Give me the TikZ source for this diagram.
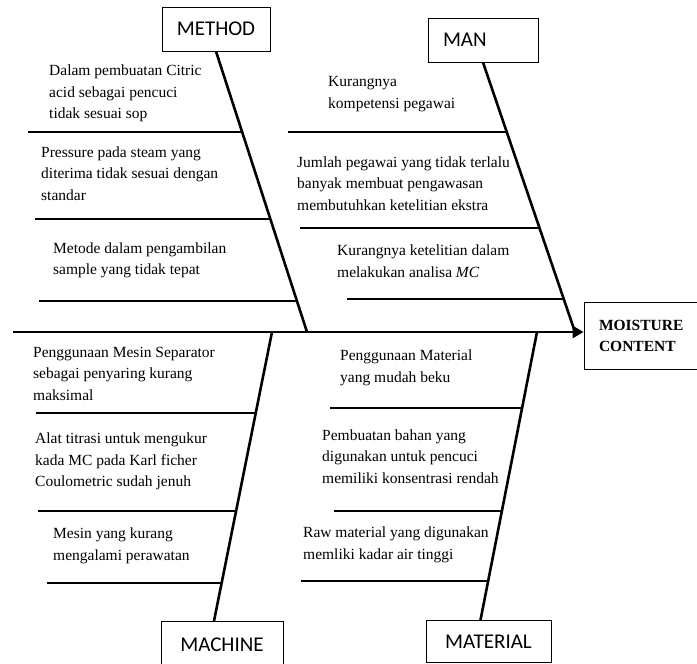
\documentclass[tikz,border=0pt]{standalone}
\usepackage{fontspec}
\setmainfont{Liberation Serif}
\newfontfamily\boxfont{Carlito}
\usetikzlibrary{arrows.meta,intersections}

\begin{document}
\begin{tikzpicture}[x=1pt,y=-1pt]
    \tikzstyle{catbox}=[draw,line width=0.8pt,inner sep=0pt,font=\boxfont\fontsize{21}{25}\selectfont]
    \tikzstyle{cause}=[anchor=west,align=left,inner sep=0pt,font=\fontsize{15.5}{21.5}\selectfont]
    \tikzstyle{bone}=[line width=2.6pt]
    \tikzstyle{branch}=[line width=2pt]
    \useasboundingbox (0,0) rectangle (697,664);

    % head and the four categories
    \node[catbox,minimum width=116pt,minimum height=67pt,text width=86pt,inner xsep=15pt,align=left,
          font=\bfseries\fontsize{15.5}{21}\selectfont] (moisture) at (642,335.5) {MOISTURE\\CONTENT};
    \node[catbox,minimum width=108pt,minimum height=44pt] (method) at (216,29) {METHOD};
    \node[catbox,minimum width=110pt,minimum height=44pt,text width=80pt,inner xsep=15pt,align=left] (man) at (483,40) {MAN};
    \node[catbox,minimum width=122pt,minimum height=46pt,anchor=north] (machine) at (222,621) {MACHINE};
    \node[catbox,minimum width=125pt,minimum height=42pt,anchor=north] (material) at (488.5,620) {MATERIAL};

    % spine and bones
    \coordinate (tail) at (13,332);
    \coordinate (methodend) at (307,332);
    \coordinate (manend) at (575,332);
    \coordinate (machineend) at (272,332);
    \coordinate (materialend) at (537,332);
    \draw[bone,-{Triangle[length=11pt,width=12pt]}] (tail) -- (tail -| moisture.west);
    \draw[bone,name path=methodbone] (method.south) -- (methodend);
    \draw[bone,name path=manbone] (man.south) -- (manend);
    \draw[bone,name path=machinebone] ([xshift=-8pt]machine.north) -- (machineend);
    \draw[bone,name path=materialbone] ([xshift=-8pt]material.north) -- (materialend);

    % causes
    \node[cause] (m1) at (49,93.5) {Dalam pembuatan Citric\\acid sebagai pencuci\\tidak sesuai sop};
    \node[cause] (m2) at (41,173.5) {Pressure pada steam yang\\diterima tidak sesuai dengan\\standar};
    \node[cause] (m3) at (53,260.5) {Metode dalam pengambilan\\sample yang tidak tepat};
    \node[cause] (n1) at (328,94) {Kurangnya\\kompetensi pegawai};
    \node[cause] (n2) at (297,183.5) {Jumlah pegawai yang tidak terlalu\\banyak membuat pengawasan\\membutuhkan ketelitian ekstra};
    \node[cause] (n3) at (337,261) {Kurangnya ketelitian dalam\\melakukan analisa \textit{MC}};
    \node[cause] (c1) at (33,373.5) {Penggunaan Mesin Separator\\sebagai penyaring kurang\\maksimal};
    \node[cause] (c2) at (35,461.5) {Alat titrasi untuk mengukur\\kada MC pada Karl ficher\\Coulometric sudah jenuh};
    \node[cause] (c3) at (53,546) {Mesin yang kurang\\mengalami perawatan};
    \node[cause] (t1) at (340,368) {Penggunaan Material\\yang mudah beku};
    \node[cause] (t2) at (322,456.5) {Pembuatan bahan yang\\digunakan untuk pencuci\\memiliki konsentrasi rendah};
    \node[cause] (t3) at (303,545) {Raw material yang digunakan\\memliki kadar air tinggi};

    % branches under each cause, running into their bone
    \foreach \bone/\y/\x in {methodbone/132/28,methodbone/219/35,methodbone/301/39,
                             manbone/132/288,manbone/228/300,manbone/299/347,
                             machinebone/413/36,machinebone/511/38,machinebone/583/47,
                             materialbone/408/330,materialbone/511/334,materialbone/581/301}{
        \path[name path=rib] (\x,\y) -- (\x+400,\y);
        \draw[branch,name intersections={of=rib and \bone}] (\x,\y) -- (intersection-1);
    }
\end{tikzpicture}
\end{document}
